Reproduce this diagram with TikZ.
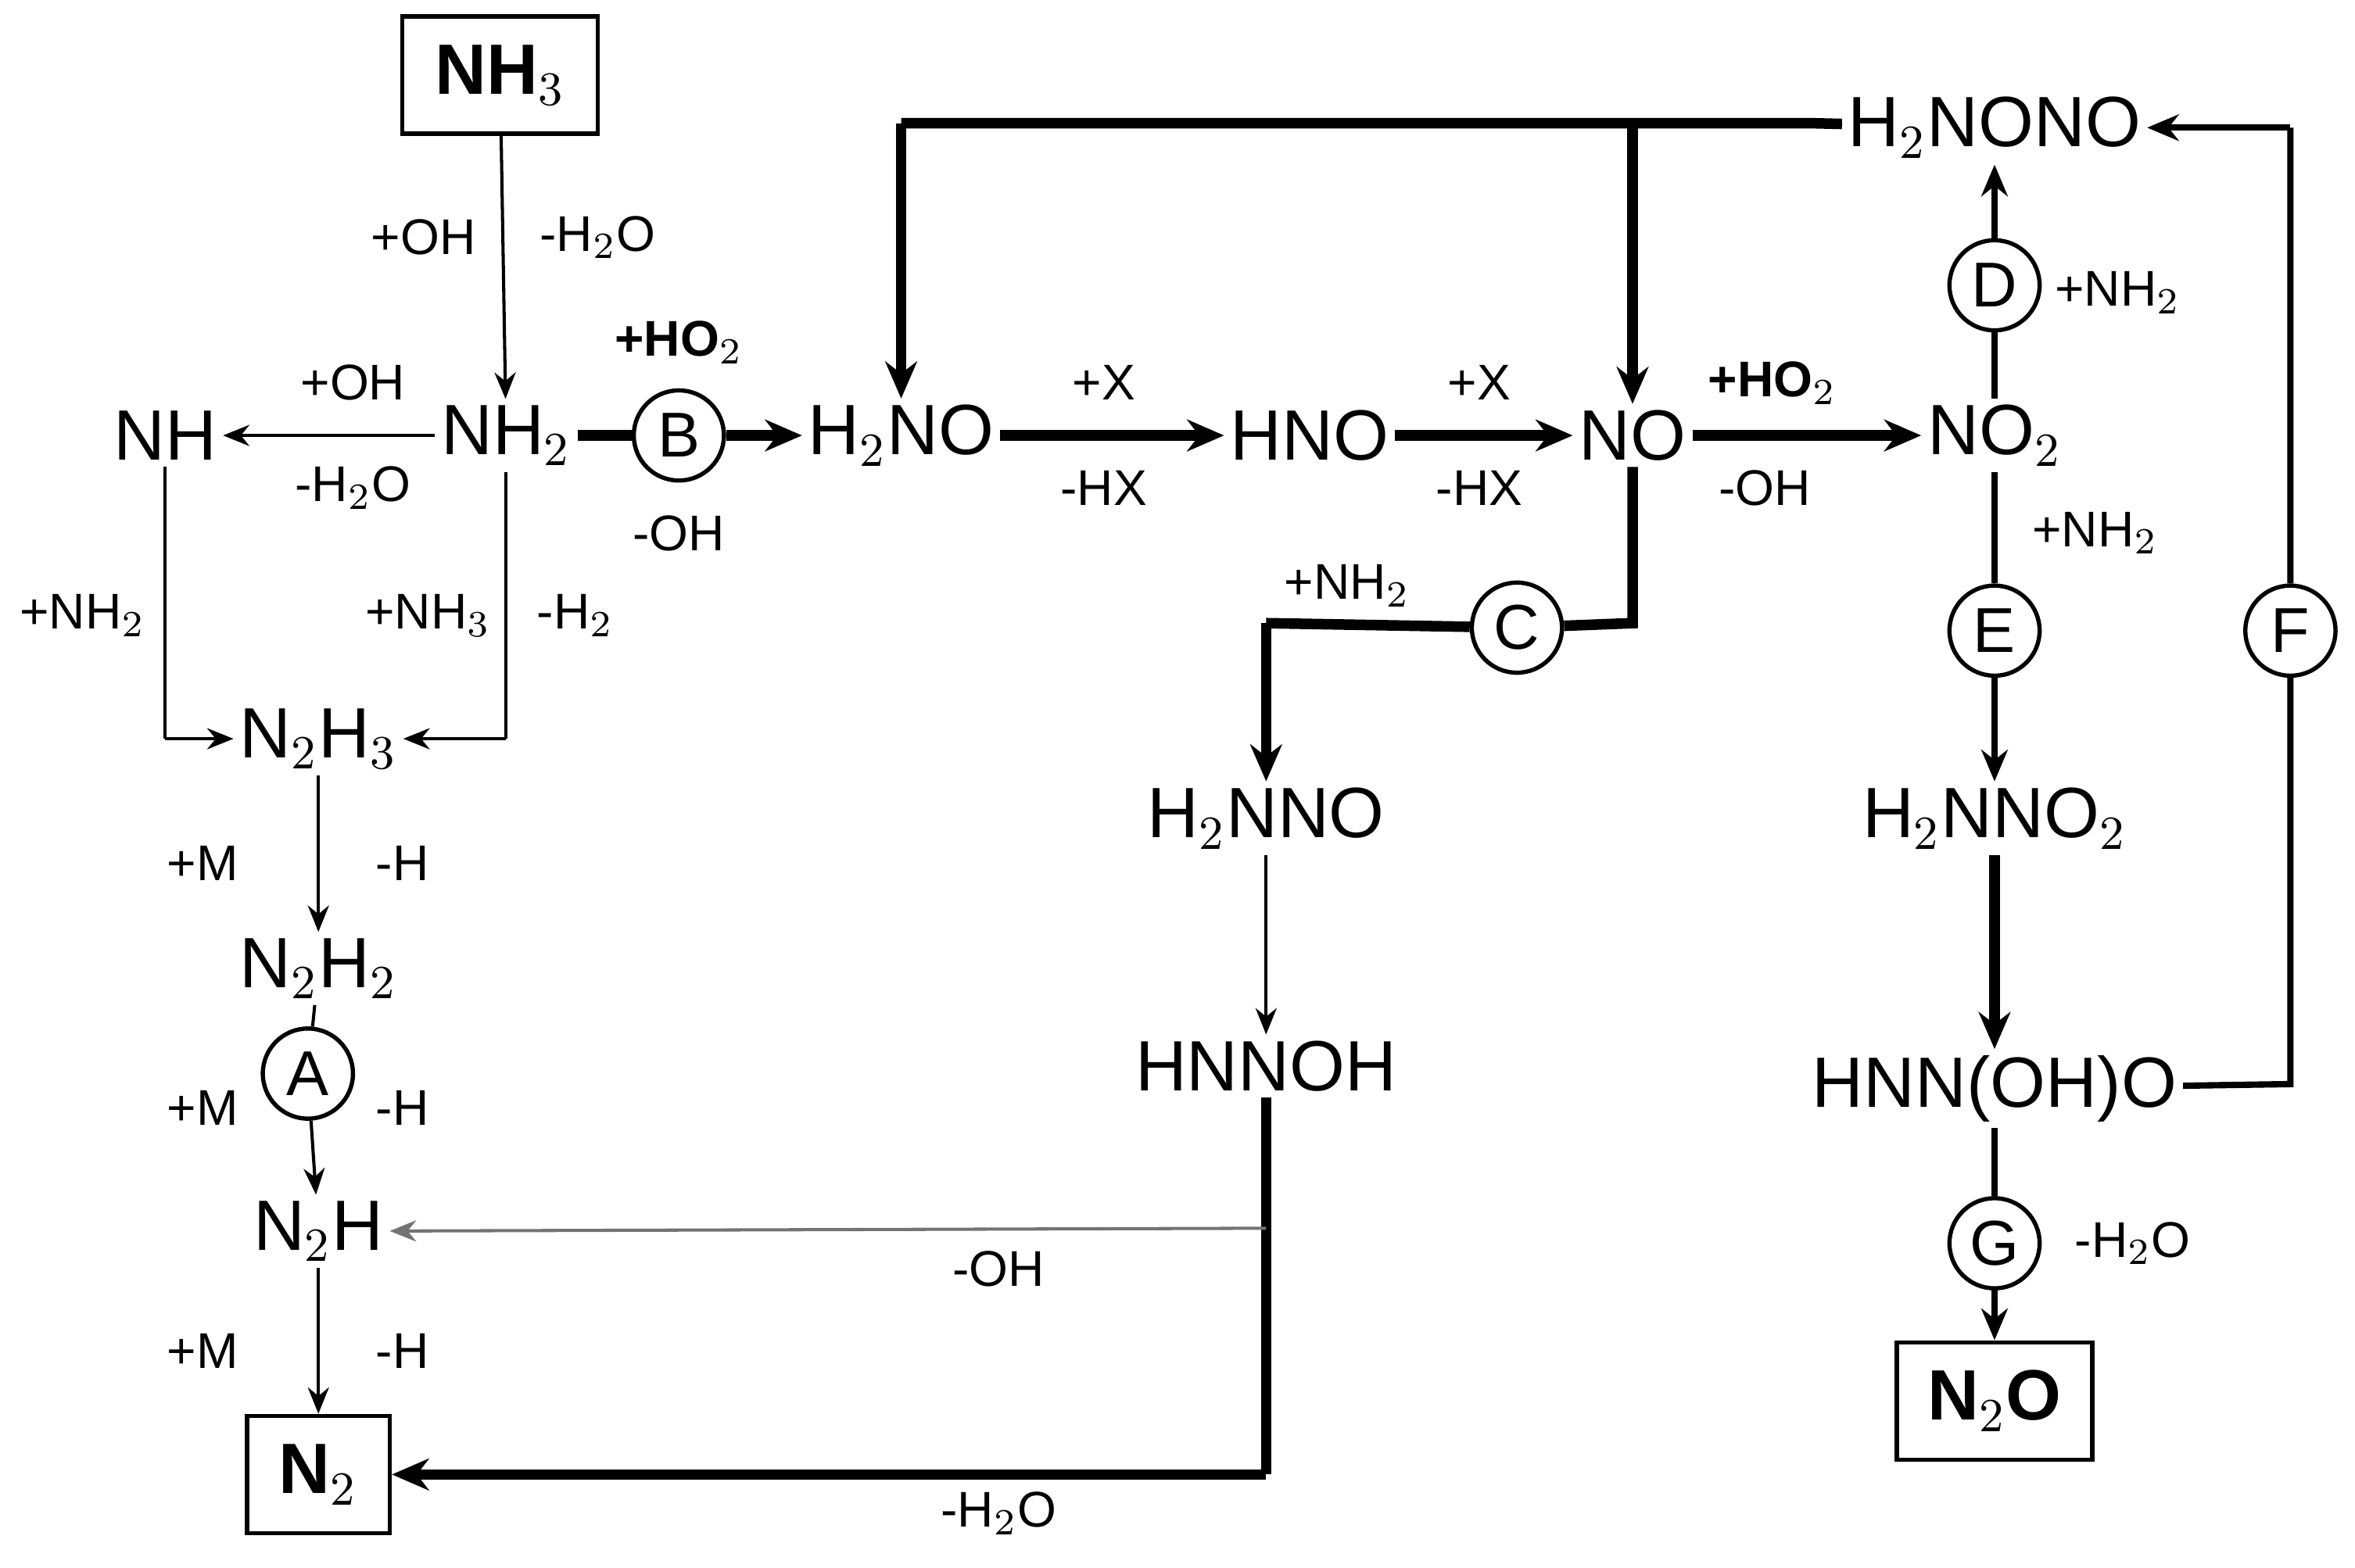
\documentclass[tikz,border=0pt]{standalone}
\usepackage{fontspec}
\setmainfont{Liberation Sans}
\usetikzlibrary{arrows.meta}
\begin{document}
\begin{tikzpicture}[x=0.01cm,y=-0.01cm,
 sp/.style={font=\fontsize{13.5}{15}\selectfont,inner sep=1pt},
 bx/.style={sp,draw,line width=0.8pt,font=\fontsize{13.5}{15}\selectfont\bfseries,minimum width=1.3cm,minimum height=0.78cm},
 lb/.style={font=\fontsize{9.5}{11}\selectfont,inner sep=0pt},
 cc/.style={circle,draw,line width=0.8pt,minimum size=0.6cm,inner sep=0pt,font=\fontsize{12}{14}\selectfont},
 thin/.style={line width=0.6pt,-{Stealth[length=5pt,width=4pt]}},
 thk/.style={line width=2pt,-{Stealth[length=7pt,width=6pt]}},
 thkn/.style={line width=2pt},
 thinn/.style={line width=0.6pt}]
\useasboundingbox (0,0) rectangle (1568,1044);
\node[bx] (nh3) at (333,50) {NH$_3$};
\node[sp] (nh2) at (337,290) {NH$_2$};
\node[sp] (nh) at (110,290) {NH};
\node[cc] (B) at (452,290) {B};
\node[sp] (h2no) at (600,290) {H$_2$NO};
\node[sp] (hno) at (872,290) {HNO};
\node[sp] (no) at (1087,290) {NO};
\node[sp] (no2) at (1328,290) {NO$_2$};
\node[sp] (h2nono) at (1328,85) {H$_2$NONO};
\node[cc] (D) at (1328,190) {D};
\node[cc] (E) at (1328,420) {E};
\node[sp] (h2nno2) at (1328,545) {H$_2$NNO$_2$};
\node[sp] (hnnoho) at (1328,725) {HNN(OH)O};
\node[cc] (G) at (1328,828) {G};
\node[bx] (n2o) at (1328,933) {N$_2$O};
\node[cc] (F) at (1525,420) {F};
\node[cc] (C) at (1010,418) {C};
\node[sp] (h2nno) at (843,545) {H$_2$NNO};
\node[sp] (hnnoh) at (843,710) {HNNOH};
\node[sp] (n2h3) at (212,492) {N$_2$H$_3$};
\node[sp] (n2h2) at (212,645) {N$_2$H$_2$};
\node[cc] (A) at (205,715) {A};
\node[sp] (n2h) at (212,820) {N$_2$H};
\node[bx,minimum width=0.95cm] (n2) at (212,982) {N$_2$};
% coordinates
\coordinate (t1) at (1205,82); \coordinate (t2) at (600,82); \coordinate (t3) at (1087,82);
\coordinate (c1) at (1087,415); \coordinate (c2) at (843,415);
\coordinate (h1) at (843,982); \coordinate (h2) at (843,818);
\coordinate (f1) at (1525,722); \coordinate (f2) at (1525,85);
\coordinate (n1) at (110,492); \coordinate (n3) at (337,492);
% left part
\draw[thin] (nh3) -- (nh2);
\node[lb] at (282,158) {+OH}; \node[lb] at (398,158) {-H$_2$O};
\draw[thin] (nh2) -- (nh);
\node[lb] at (235,255) {+OH}; \node[lb] at (235,325) {-H$_2$O};
\draw[thinn] (nh) -- (n1); \draw[thin] (n1) -- (n2h3);
\node[lb] at (55,410) {+NH$_2$};
\draw[thinn] (nh2) -- (n3); \draw[thin] (n3) -- (n2h3);
\node[lb] at (285,410) {+NH$_3$}; \node[lb] at (383,410) {-H$_2$};
\draw[thkn] (nh2) -- (B); \draw[thk] (B) -- (h2no);
\node[lb,font=\fontsize{9.5}{11}\selectfont\bfseries] at (452,228) {+HO$_2$}; \node[lb] at (452,355) {-OH};
\draw[thk] (h2no) -- (hno);
\node[lb] at (735,255) {+X}; \node[lb] at (735,325) {-HX};
\draw[thk] (hno) -- (no);
\node[lb] at (985,255) {+X}; \node[lb] at (985,325) {-HX};
\draw[thk] (no) -- (no2);
\node[lb,font=\fontsize{9.5}{11}\selectfont\bfseries] at (1180,255) {+HO$_2$}; \node[lb] at (1175,325) {-OH};
\draw[thkn] (h2nono) -- (t1) -- (t2); \draw[thk] (t2) -- (h2no);
\draw[thk] (t3) -- (no);
\draw[line width=1.2pt] (no2) -- (D); \draw[line width=1.2pt,-{Stealth[length=6pt,width=5pt]}] (D) -- (h2nono);
\node[lb] at (1410,195) {+NH$_2$};
\draw[line width=1.2pt] (no2) -- (E); \draw[line width=1.2pt,-{Stealth[length=6pt,width=5pt]}] (E) -- (h2nno2);
\node[lb] at (1395,355) {+NH$_2$};
\draw[thk] (h2nno2) -- (hnnoho);
\draw[line width=1.2pt] (hnnoho) -- (G); \draw[line width=1.2pt,-{Stealth[length=6pt,width=5pt]}] (G) -- (n2o);
\node[lb] at (1420,828) {-H$_2$O};
\draw[line width=1.2pt] (hnnoho) -- (f1) -- (F) -- (f2); \draw[line width=1.2pt,-{Stealth[length=6pt,width=5pt]}] (f2) -- (h2nono);
\draw[thkn] (no) -- (c1) -- (C) -- (c2); \draw[thk] (c2) -- (h2nno);
\node[lb] at (897,390) {+NH$_2$};
\draw[thin] (h2nno) -- (hnnoh);
\draw[thkn] (hnnoh) -- (h1); \draw[thk] (h1) -- (n2);
\draw[thin,draw=black!55] (h2) -- (n2h);
\node[lb] at (665,845) {-OH}; \node[lb] at (665,1008) {-H$_2$O};
\draw[thin] (n2h3) -- (n2h2);
\node[lb] at (135,575) {+M}; \node[lb] at (268,575) {-H};
\draw[thinn] (n2h2) -- (A); \draw[thin] (A) -- (n2h);
\node[lb] at (135,738) {+M}; \node[lb] at (268,738) {-H};
\draw[thin] (n2h) -- (n2);
\node[lb] at (135,900) {+M}; \node[lb] at (268,900) {-H};
\end{tikzpicture}
\end{document}
